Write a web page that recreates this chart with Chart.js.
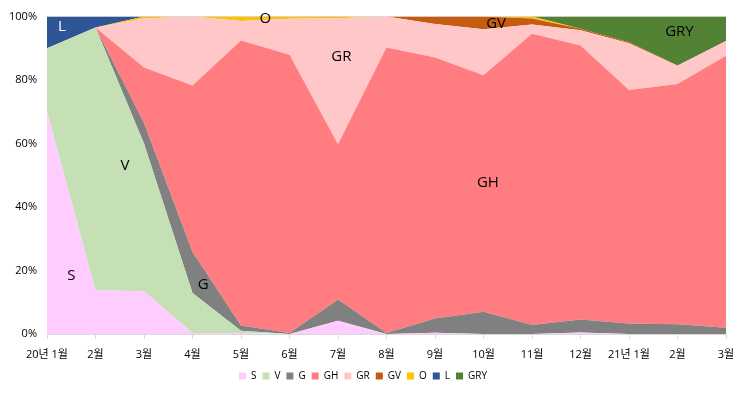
<!DOCTYPE html>
<html>
<head>
<meta charset="utf-8">
<script src="https://cdn.jsdelivr.net/npm/chart.js@4/dist/chart.umd.min.js"></script>
<style>
  html, body { margin: 0; padding: 0; background: #fff; }
  #wrap { width: 744px; height: 396px; }
</style>
</head>
<body>
<div id="wrap"><canvas id="chart" width="744" height="396"></canvas></div>
<script>
// months, 2020.01 - 2021.03
const months = ['20년 1월', '2월', '3월', '4월', '5월', '6월', '7월', '8월', '9월', '10월', '11월', '12월', '21년 1월', '2월', '3월'];

// share per month (%)
const S   = [70,   13.8, 13.5, 0.3,  0.3,  0,    4.2,  0,    0.4,  0,    0,    0.5,  0,    0,    0];
const V   = [20,   82.8, 46.5, 12.6, 0.7,  0,    0,    0,    0,    0,    0,    0,    0,    0,    0];
const G   = [0,    0,    6.5,  12.9, 1.7,  0.3,  6.7,  0.3,  4.5,  7,    2.8,  4.1,  3.3,  3.1,  2.0];
const GH  = [0,    0,    17.5, 52.5, 89.8, 87.7, 48.9, 90,   82.2, 74.5, 91.8, 86.3, 73.6, 75.7, 85.7];
const GR  = [0,    0,    15.4, 21.7, 6.1,  11.3, 39.7, 9.7,  10.6, 14.5, 2.9,  4.8,  14.7, 5.7,  4.6];
const GV  = [0,    0,    0,    0,    0,    0,    0,    0,    2.3,  4,    1.9,  0.5,  0.3,  0.1,  0];
const O   = [0,    0,    0.6,  0,    1.4,  0.7,  0.5,  0,    0,    0,    0.6,  0,    0,    0,    0];
const L   = [10,   3.4,  0,    0,    0,    0,    0,    0,    0,    0,    0,    0,    0,    0,    0];
const GRY = [0,    0,    0,    0,    0,    0,    0,    0,    0,    0,    0,    3.8,  8.1,  15.4, 7.7];

const seriesNames = ['S', 'V', 'G', 'GH', 'GR', 'GV', 'O', 'L', 'GRY'];
const seriesData = [S, V, G, GH, GR, GV, O, L, GRY];
const colors = ['#FFCCFF', '#C5E0B4', '#808080', '#FF7C80', '#FFC7C7', '#C55A11', '#FFC000', '#2F5597', '#548235'];

// series name labels: [name, month index, percent height, colour]
const nameLabels = [
  ['L', 0.31, 96.9, '#ffffff'],
  ['O', 4.5, 99.4, '#000000'],
  ['GV', 9.26, 97.8, '#000000'],
  ['GRY', 13.04, 95.3, '#000000'],
  ['GR', 6.07, 87.5, '#000000'],
  ['V', 1.61, 53, '#000000'],
  ['GH', 9.09, 47.6, '#000000'],
  ['S', 0.5, 18.5, '#000000'],
  ['G', 3.22, 15.4, '#000000']
];

const FONT = "'Open Sans', 'Noto Sans CJK KR', sans-serif";

// 100% stacking
const totals = months.map((_, i) => seriesData.reduce((s, arr) => s + arr[i], 0));
const datasets = seriesData.map((arr, k) => ({
  label: seriesNames[k],
  data: arr.map((v, i) => v / totals[i] * 100),
  backgroundColor: colors[k],
  borderColor: colors[k],
  borderWidth: 0,
  pointRadius: 0,
  tension: 0,
  fill: k === 0 ? 'origin' : '-1'
}));

const labelPlugin = {
  id: 'nameLabels',
  afterDatasetsDraw(chart) {
    const { ctx, scales: { x, y } } = chart;
    ctx.save();
    ctx.font = '15px ' + FONT;
    ctx.textAlign = 'center';
    ctx.textBaseline = 'middle';
    nameLabels.forEach(([t, xi, yv, c]) => {
      ctx.fillStyle = c;
      ctx.fillText(t, x.getPixelForValue(xi), y.getPixelForValue(yv));
    });
    ctx.restore();
  }
};

new Chart(document.getElementById('chart'), {
  type: 'line',
  data: { labels: months, datasets },
  options: {
    responsive: false,
    animation: false,
    layout: { padding: { top: 15, right: 18, bottom: 5, left: 0 } },
    plugins: {
      legend: {
        position: 'bottom',
        labels: { boxWidth: 7, boxHeight: 7, padding: 6, color: '#000', font: { family: FONT, size: 10 } }
      },
      tooltip: { enabled: false }
    },
    scales: {
      x: {
        offset: false,
        grid: { display: true, drawOnChartArea: false, color: '#D9D9D9', tickLength: 5 },
        border: { color: '#D9D9D9' },
        ticks: { autoSkip: false, maxRotation: 0, color: '#000', padding: 9, font: { family: FONT, size: 11 } },
        afterFit(s) { s.height = 31; }
      },
      y: {
        stacked: true,
        min: 0, max: 100,
        grid: { color: '#D9D9D9', drawTicks: false },
        border: { display: false },
        ticks: { stepSize: 20, color: '#000', padding: 10, callback: v => v + '%', font: { family: FONT, size: 11 } },
        afterFit(s) { s.width = 47; }
      }
    }
  },
  plugins: [labelPlugin]
});
</script>
</body>
</html>
